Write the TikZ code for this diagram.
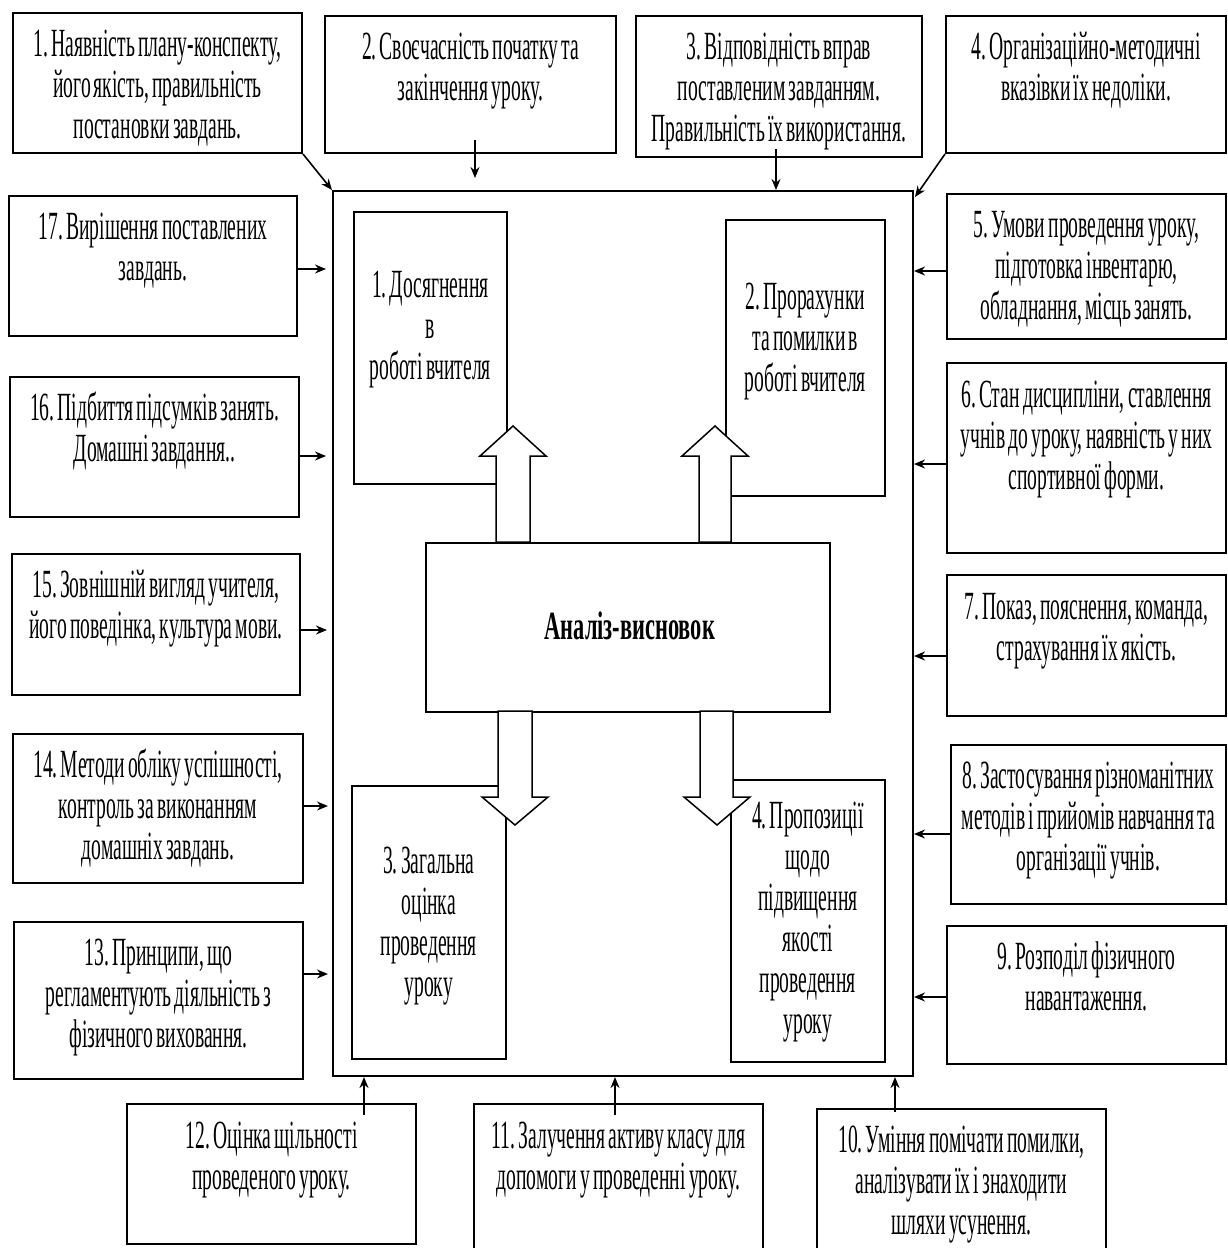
\documentclass[tikz,border=0pt]{standalone}
\usepackage{fontspec}
\setmainfont[FakeStretch=0.49,WordSpace=0.65]{Liberation Serif}
\newfontfamily\centfont[FakeStretch=0.56]{Liberation Serif}
\usetikzlibrary{arrows.meta,calc}
\tikzset{
  outbox/.style={draw, line width=2pt, inner sep=0pt},
  inbox/.style={draw, line width=1.6pt, inner sep=0pt},
  framebox/.style={draw, line width=2pt, inner sep=0pt},
  txt/.style={text width=330pt, align=flush center, inner sep=0pt, font=\fontsize{40pt}{41pt}\selectfont\frenchspacing},
  arr/.style={line width=1.6pt, -{Stealth[length=11pt,width=9pt]}},
  blockarr/.style={draw, fill=white, line width=1.5pt, line join=miter}
}
\newcommand\pbox[6]{\node[#6, anchor=north west, minimum width={(#4-#2)*1pt}, minimum height={(#5-#3)*1pt}] (#1) at (#2,#3) {};}
\newcommand\ptext[4]{\node[txt, anchor=base] (#1) at ($(#2.north)+(0,#3)$) {#4};}
\begin{document}
\begin{tikzpicture}[x=1pt,y=-1pt]
\useasboundingbox (0,0) rectangle (1227,1248);
\fill[white] (0,0) rectangle (1227,1248);
% frame
\pbox{frame}{332}{190}{912}{1075}{framebox}
% outer boxes
\pbox{b1}{12}{12}{301}{152}{outbox}
\pbox{b2}{324}{15}{615}{152}{outbox}
\pbox{b3}{635}{15}{921}{156}{outbox}
\pbox{b4}{945}{15}{1225}{152}{outbox}
\pbox{b5}{946}{193}{1225}{338}{outbox}
\pbox{b6}{946}{362}{1225}{552}{outbox}
\pbox{b7}{946}{574}{1225}{715}{outbox}
\pbox{b8}{950}{744}{1225}{903}{outbox}
\pbox{b9}{946}{925}{1225}{1063}{outbox}
\pbox{b10}{816}{1108}{1105}{1258}{outbox}
\pbox{b11}{473}{1103}{762}{1258}{outbox}
\pbox{b12}{126}{1103}{415}{1243}{outbox}
\pbox{b13}{13}{921}{302}{1078}{outbox}
\pbox{b14}{12}{733}{302}{882}{outbox}
\pbox{b15}{11}{553}{299}{694}{outbox}
\pbox{b16}{9}{376}{298}{516}{outbox}
\pbox{b17}{8}{195}{296}{335}{outbox}
% inner boxes
\pbox{i1}{353}{211}{506}{483}{inbox}
\pbox{i2}{725}{219}{884}{495}{inbox}
\pbox{i3}{351}{785}{505}{1058}{inbox}
\pbox{i4}{730}{779}{884}{1061}{inbox}
\pbox{c}{425}{542}{829}{711}{inbox}
% texts
\ptext{t1}{b1}{44}{1. Наявність плану-конспекту,\\ його якість, правильність\\ постановки завдань.}
\ptext{t2}{b2}{44}{2. Своєчасність початку та\\ закінчення уроку.}
\ptext{t3}{b3}{44}{3. Відповідність вправ\\ поставленим завданням.\\ Правильність їх використання.}
\ptext{t4}{b4}{44}{4. Організаційно-методичні\\ вказівки їх недоліки.}
\ptext{t5}{b5}{44}{5. Умови проведення уроку,\\ підготовка інвентарю,\\ обладнання, місць занять.}
\ptext{t6}{b6}{45}{6. Стан дисципліни, ставлення\\ учнів до уроку, наявність у них\\ спортивної форми.}
\ptext{t7}{b7}{45}{7. Показ, пояснення, команда,\\ страхування їх якість.}
\ptext{t8}{b8}{44}{8. Застосування різноманітних\\ методів і прийомів навчання та\\ організації учнів.}
\ptext{t9}{b9}{44}{9. Розподіл фізичного\\ навантаження.}
\ptext{t10}{b10}{44}{10. Уміння помічати помилки,\\ аналізувати їх і знаходити\\ шляхи усунення.}
\ptext{t11}{b11}{45}{11. Залучення активу класу для\\ допомоги у проведенні уроку.}
\ptext{t12}{b12}{45}{12. Оцінка щільності\\ проведеного уроку.}
\ptext{t13}{b13}{44}{13. Принципи, що\\ регламентують діяльність з\\ фізичного виховання.}
\ptext{t14}{b14}{44}{14. Методи обліку успішності,\\ контроль за виконанням\\ домашніх завдань.}
\ptext{t15}{b15}{44}{15. Зовнішній вигляд учителя,\\ його поведінка, культура мови.}
\ptext{t16}{b16}{44}{16. Підбиття підсумків занять.\\ Домашні завдання..}
\ptext{t17}{b17}{44}{17. Вирішення поставлених\\ завдань.}
\ptext{ti1}{i1}{86}{1. Досягнення\\ в\\ роботі вчителя}
\ptext{ti2}{i2}{90}{2. Прорахунки\\ та помилки в\\ роботі вчителя}
\ptext{ti3}{i3}{88}{3. Загальна\\ оцінка\\ проведення\\ уроку}
\ptext{ti4}{i4}{49}{4. Пропозиції\\ щодо\\ підвищення\\ якості\\ проведення\\ уроку}
\node[font=\fontsize{40pt}{41pt}\centfont\bfseries, inner sep=0pt, anchor=base] (tc) at ($(c.center)+(2,12)$) {Аналіз-висновок};
% block arrows
\draw[blockarr] (496,542) -- (496,456) -- (480,456) -- (513,426) -- (546,456) -- (530,456) -- (530,542) -- cycle;
\draw[blockarr] (699,542) -- (699,456) -- (682,456) -- (715,426) -- (748,456) -- (731,456) -- (731,542) -- cycle;
\draw[blockarr] (498,711) -- (498,797) -- (482,797) -- (515,825) -- (548,797) -- (532,797) -- (532,711) -- cycle;
\draw[blockarr] (700,711) -- (700,797) -- (684,797) -- (717,825) -- (750,797) -- (733,797) -- (733,711) -- cycle;
% top connectors
\draw[arr] (b1.south east) -- (frame.north west);
\draw[arr] ($(b2.south)+(4.5,-14)$) -- ($(b2.south |- frame.north)+(4.5,-12)$);
\draw[arr] ($(b3.south)+(-3,-9)$) -- ($(b3.south |- frame.north)+(-3,0)$);
\draw[arr] (b4.south west) -- ($(frame.north east)+(1,7)$);
% left connectors
\draw[arr] ($(b17.east)+(0,3)$) -- ($(b17.east -| frame.west)+(-6,3)$);
\draw[arr] ($(b16.east)+(0,9)$) -- ($(b16.east -| frame.west)+(-6,9)$);
\draw[arr] ($(b15.east)+(0,5.5)$) -- ($(b15.east -| frame.west)+(-5,5.5)$);
\draw[arr] ($(b14.east)+(0,-2.5)$) -- ($(b14.east -| frame.west)+(-4,-2.5)$);
\draw[arr] ($(b13.east)+(0,-26.5)$) -- ($(b13.east -| frame.west)+(-4,-26.5)$);
% right connectors
\draw[arr] ($(b5.west)+(0,4.5)$) -- ($(b5.west -| frame.east)+(0,4.5)$);
\draw[arr] ($(b6.west)+(0,6)$) -- ($(b6.west -| frame.east)+(0,6)$);
\draw[arr] ($(b7.west)+(0,10.5)$) -- ($(b7.west -| frame.east)+(0,10.5)$);
\draw[arr] ($(b8.west)+(0,9.5)$) -- ($(b8.west -| frame.east)+(0,9.5)$);
\draw[arr] ($(b9.west)+(0,2)$) -- ($(b9.west -| frame.east)+(0,2)$);
% bottom connectors
\draw[arr] ($(b12.north)+(92.5,12)$) -- ($(b12.north |- frame.south)+(92.5,0)$);
\draw[arr] ($(b11.north)+(-3.5,12)$) -- ($(b11.north |- frame.south)+(-3.5,0)$);
\draw[arr] ($(b10.north)+(-66.5,4)$) -- ($(b10.north |- frame.south)+(-66.5,0)$);
\end{tikzpicture}
\end{document}
